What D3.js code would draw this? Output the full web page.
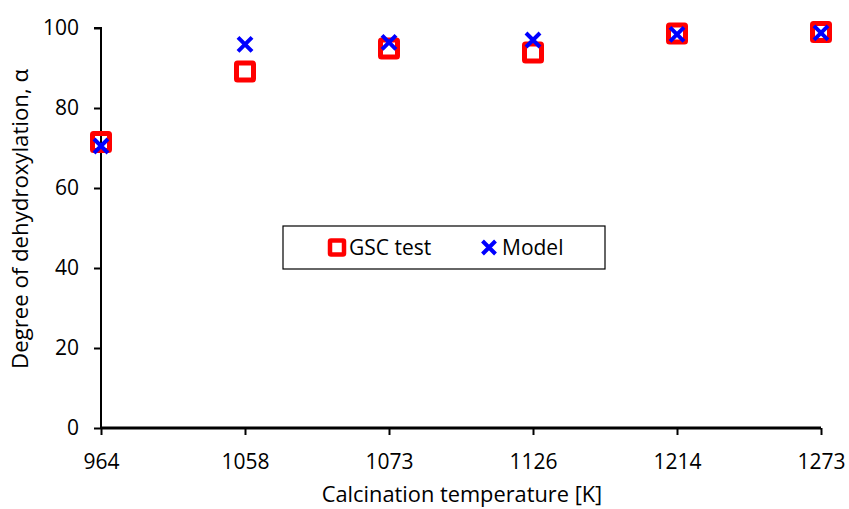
<!DOCTYPE html>
<html><head><meta charset="utf-8">
<script src="https://cdn.jsdelivr.net/npm/d3@7"></script>
<style>body{margin:0;background:#fff}svg{display:block}text{font-family:"Open Sans",sans-serif}</style>
</head><body><svg id="c" width="849" height="509"></svg>
<script>
const categories = ["964","1058","1073","1126","1214","1273"];
const gscTest = [71.5, 89.1, 94.9, 93.9, 98.6, 99.0];
const model = [70.5, 95.9, 96.4, 97.0, 98.4, 98.8];
const yTicks = [0,20,40,60,80,100];

const svg = d3.select("#c");
const m = {left:101, right:821, top:28, bottom:428};
const x = d3.scalePoint().domain(categories).range([m.left, m.right]).padding(0);
const y = d3.scaleLinear().domain([0,100]).range([m.bottom, m.top]);

// y axis
const ya = svg.append("g").attr("transform",`translate(${m.left},0)`)
  .call(d3.axisLeft(y).tickValues(yTicks).tickSize(7).tickPadding(15));
ya.select(".domain").attr("stroke","#000").attr("stroke-width",2).attr("d",`M-7,${m.top}H0V${m.bottom}`);
ya.selectAll(".tick line").attr("stroke","#000").attr("stroke-width",2);
ya.selectAll(".tick text").attr("font-size",21).attr("fill","#000").attr("font-family","Open Sans");

// x axis
const xa = svg.append("g").attr("transform",`translate(0,${m.bottom})`)
  .call(d3.axisBottom(x).tickSize(7).tickPadding(19).tickSizeOuter(0));
xa.select(".domain").attr("stroke","#000").attr("stroke-width",3).attr("d",`M${m.left},0H${m.right}`);
xa.selectAll(".tick line").attr("stroke","#000").attr("stroke-width",2);
xa.selectAll(".tick text").attr("font-size",21).attr("fill","#000").attr("font-family","Open Sans");

// titles
svg.append("text").attr("x",462).attr("y",502).attr("text-anchor","middle")
  .attr("font-size",21.8).text("Calcination temperature [K]");
svg.append("text").attr("transform","translate(28,219) rotate(-90)").attr("text-anchor","middle")
  .attr("font-size",22.2).text("Degree of dehydroxylation, α");

// markers
const sq = 17;
svg.append("g").selectAll("rect").data(gscTest).join("rect")
  .attr("x",(d,i)=>x(categories[i])-sq/2).attr("y",d=>y(d)-sq/2)
  .attr("width",sq).attr("height",sq).attr("fill","none")
  .attr("stroke","#ff0000").attr("stroke-width",5).attr("rx",1);
const cr = 7;
function cross(g, cx, cy, r){
  g.append("path").attr("d",`M${cx-r},${cy-r}L${cx+r},${cy+r}M${cx-r},${cy+r}L${cx+r},${cy-r}`)
   .attr("stroke","#0000ff").attr("stroke-width",4).attr("fill","none");
}
const cg = svg.append("g");
model.forEach((d,i)=>cross(cg, x(categories[i]), y(d), cr));

// legend
const lg = svg.append("g");
lg.append("rect").attr("x",283).attr("y",226).attr("width",322).attr("height",43)
  .attr("fill","#fff").attr("stroke","#000").attr("stroke-width",1.2);
lg.append("rect").attr("x",337-7).attr("y",247.5-7).attr("width",14).attr("height",14)
  .attr("fill","none").attr("stroke","#ff0000").attr("stroke-width",4.5).attr("rx",1);
lg.append("text").attr("x",349).attr("y",255).attr("font-size",21).text("GSC test");
cross(lg, 489, 247.5, 6.5);
lg.append("text").attr("x",502).attr("y",255).attr("font-size",21).text("Model");
</script></body></html>
